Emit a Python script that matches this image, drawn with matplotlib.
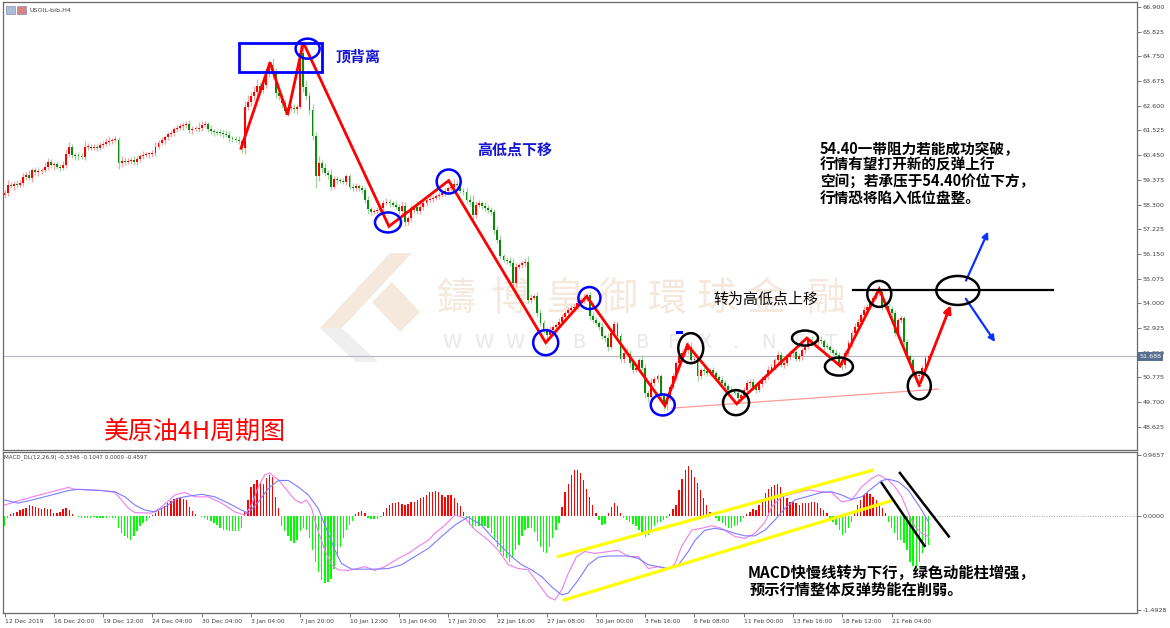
import numpy as np
import matplotlib
matplotlib.use('Agg')
import matplotlib.pyplot as plt
from matplotlib.patches import Ellipse, Rectangle, Polygon
from matplotlib.transforms import blended_transform_factory

plt.rcParams['font.family'] = ['Noto Sans CJK SC', 'DejaVu Sans']

W, H = 1170, 628

# ---------------- data ----------------
first_open = 58.70
closes = [
    58.80, 59.16, 59.10, 59.20, 59.15, 59.25, 59.50, 59.60, 59.45, 59.80,
    59.70, 59.74, 59.80, 59.95, 60.17, 60.00, 60.05, 59.95, 59.90, 60.00,
    60.50, 60.82, 60.46, 60.42, 60.40, 60.36, 60.82, 60.82, 60.78, 60.80,
    60.78, 60.90, 60.95, 61.04, 61.06, 61.10, 61.12, 60.10, 60.20, 60.15,
    60.20, 60.25, 60.13, 60.30, 60.40, 60.46, 60.48, 60.50, 60.52, 60.82,
    60.97, 61.10, 61.23, 61.35, 61.41, 61.58, 61.65, 61.70, 61.77, 61.81,
    61.55, 61.58, 61.60, 61.62, 61.77, 61.80, 61.60, 61.48, 61.45, 61.42,
    61.40, 61.36, 61.33, 61.20, 61.15, 61.12, 61.05, 60.75, 62.56, 62.78,
    63.00, 63.20, 63.44, 63.30, 63.50, 64.01, 64.38, 64.00, 63.15, 63.00,
    62.71, 62.35, 62.50, 62.52, 62.45, 62.56, 64.90, 63.40, 63.00, 62.42,
    61.26, 59.52, 60.10, 59.90, 59.68, 59.60, 59.08, 59.40, 59.35, 59.32,
    59.30, 59.52, 59.08, 59.02, 59.10, 59.00, 58.94, 58.50, 58.10, 57.99,
    58.00, 58.05, 58.14, 58.36, 58.40, 58.35, 58.30, 58.20, 58.00, 58.25,
    57.56, 57.70, 58.07, 58.20, 58.00, 58.20, 58.36, 58.50, 58.55, 58.58,
    58.65, 58.72, 58.80, 58.90, 59.00, 59.08, 59.20, 59.15, 58.90, 58.85,
    58.50, 58.40, 57.85, 58.30, 58.36, 58.25, 58.15, 58.05, 57.99, 57.20,
    56.76, 56.04, 55.90, 55.85, 55.76, 54.88, 55.60, 55.65, 55.75, 55.82,
    54.15, 54.25, 54.30, 53.60, 53.15, 52.85, 52.63, 52.85, 52.95, 53.05,
    53.21, 53.40, 53.57, 53.70, 53.80, 53.86, 54.00, 54.15, 54.25, 54.35,
    53.43, 53.28, 53.15, 52.99, 52.56, 52.49, 52.12, 52.72, 53.10, 52.56,
    51.60, 51.85, 51.80, 51.40, 51.11, 51.20, 51.54, 51.20, 50.10, 49.94,
    50.54, 50.70, 50.82, 49.97, 49.60, 49.90, 50.38, 50.82, 51.41, 51.69,
    51.83, 51.95, 52.12, 51.54, 51.60, 50.82, 51.10, 51.05, 50.95, 51.10,
    50.95, 50.80, 50.67, 50.55, 50.40, 50.24, 50.20, 50.10, 49.90, 50.00,
    50.24, 50.53, 50.60, 50.35, 50.24, 50.50, 50.67, 50.82, 51.11, 51.25,
    51.54, 51.76, 51.32, 51.40, 51.65, 51.83, 51.90, 51.60, 51.70, 51.95,
    52.12, 52.41, 52.35, 52.30, 52.41, 52.35, 52.12, 52.10, 51.95, 51.85,
    51.76, 51.40, 51.32, 51.83, 52.27, 52.70, 52.99, 53.21, 53.50, 53.72,
    53.86, 54.00, 54.23, 54.44, 54.50, 53.86, 53.90, 53.75, 53.57, 52.70,
    53.28, 53.35, 52.30, 51.69, 51.54, 50.97, 50.82, 50.90, 51.20, 51.61,
    51.69,
]
# wick length above / below the candle body
high_ext = [
    .15, .20, .10, .12, .15, .10, .18, .12, .20, .10,
    .12, .15, .10, .20, .15, .12, .10, .15, .12, .20,
    .15, .20, .12, .10, .15, .12, .25, .15, .10, .12,
    .15, .10, .12, .15, .20, .10, .15, .12, .20, .15,
    .12, .10, .15, .12, .10, .15, .12, .10, .15, .20,
    .12, .15, .10, .12, .15, .10, .12, .15, .10, .12,
    .15, .12, .10, .25, .15, .12, .10, .15, .12, .10,
    .15, .12, .20, .15, .10, .12, .15, .10, .25, .30,
    .20, .25, .30, .20, .35, .25, .20, .30, .25, .20,
    .15, .20, .15, .12, .15, .10, .44, .25, .30, .20,
    .25, .20, .30, .15, .20, .12, .25, .15, .12, .10,
    .15, .12, .10, .15, .12, .10, .15, .12, .15, .10,
    .12, .15, .10, .15, .20, .12, .10, .15, .12, .20,
    .15, .12, .20, .10, .25, .15, .12, .10, .15, .12,
    .10, .12, .15, .10, .12, .15, .20, .15, .12, .10,
    .15, .20, .30, .15, .12, .10, .15, .12, .15, .10,
    .15, .20, .12, .10, .15, .20, .15, .12, .10, .15,
    .25, .15, .12, .20, .15, .12, .10, .15, .12, .10,
    .15, .12, .10, .15, .12, .10, .15, .12, .15, .12,
    .15, .20, .12, .10, .15, .12, .20, .25, .15, .12,
    .15, .12, .20, .15, .12, .15, .10, .20, .15, .12,
    .20, .15, .12, .10, .15, .20, .12, .15, .10, .15,
    .12, .15, .18, .20, .15, .12, .10, .15, .12, .10,
    .15, .12, .10, .15, .12, .10, .15, .12, .15, .10,
    .12, .15, .10, .15, .12, .10, .15, .12, .15, .12,
    .10, .15, .12, .10, .15, .12, .10, .15, .12, .10,
    .12, .10, .15, .12, .10, .15, .12, .15, .10, .12,
    .15, .12, .10, .15, .12, .10, .15, .12, .10, .15,
    .12, .10, .15, .12, .15, .15, .12, .10, .15, .12,
    .10, .15, .12, .15, .12, .10, .15, .12, .10, .15,
    .10,
]
low_ext = [
    .12, .15, .10, .15, .12, .10, .15, .12, .10, .15,
    .10, .15, .12, .10, .15, .12, .20, .10, .15, .12,
    .10, .15, .12, .20, .15, .10, .12, .15, .10, .12,
    .15, .10, .12, .10, .15, .12, .10, .25, .15, .12,
    .10, .15, .12, .10, .15, .12, .10, .15, .12, .10,
    .12, .10, .15, .12, .10, .15, .12, .10, .15, .12,
    .15, .20, .10, .15, .12, .10, .15, .12, .15, .10,
    .12, .15, .10, .20, .15, .12, .10, .20, .25, .15,
    .20, .15, .25, .20, .15, .12, .15, .25, .20, .15,
    .20, .15, .20, .12, .15, .20, .10, .20, .15, .20,
    .15, .50, .20, .25, .15, .20, .15, .12, .15, .10,
    .12, .15, .10, .12, .15, .10, .12, .15, .20, .15,
    .12, .10, .15, .12, .10, .15, .12, .10, .15, .12,
    .20, .15, .10, .15, .12, .10, .15, .12, .10, .12,
    .10, .12, .10, .15, .12, .10, .12, .15, .12, .15,
    .12, .15, .25, .12, .10, .15, .12, .10, .15, .20,
    .15, .12, .10, .15, .12, .20, .15, .10, .12, .15,
    .12, .15, .10, .20, .15, .12, .30, .15, .12, .10,
    .12, .10, .15, .12, .10, .15, .12, .10, .12, .15,
    .15, .12, .10, .15, .12, .15, .20, .12, .15, .12,
    .15, .20, .12, .15, .12, .10, .15, .12, .20, .25,
    .15, .12, .10, .20, .25, .25, .15, .12, .15, .10,
    .12, .10, .15, .12, .15, .20, .12, .15, .10, .12,
    .15, .12, .10, .15, .12, .15, .12, .10, .25, .15,
    .12, .10, .15, .12, .15, .10, .12, .15, .10, .12,
    .15, .12, .10, .15, .12, .10, .15, .12, .10, .15,
    .12, .10, .15, .12, .10, .12, .15, .10, .12, .15,
    .12, .15, .20, .12, .10, .15, .12, .10, .15, .12,
    .10, .12, .15, .10, .12, .15, .12, .10, .15, .12,
    .20, .12, .15, .12, .15, .20, .25, .30, .15, .12,
    .10,
]
# MACD histogram, one value per candle
hist = [
    -0.17, -0.04, 0.02, 0.04, 0.06, 0.09, 0.11, 0.13, 0.17, 0.15,
    0.14, 0.13, 0.11, 0.12, 0.11, 0.10, 0.05, 0.04, 0.06, 0.10,
    0.12, 0.09, 0.03, -0.01, -0.02, -0.03, -0.03, -0.03, -0.03, -0.02,
    -0.03, -0.03, -0.03, -0.03, -0.02, -0.03, -0.04, -0.20, -0.28, -0.33,
    -0.36, -0.38, -0.32, -0.25, -0.17, -0.12, -0.08, -0.04, 0.01, 0.04,
    0.07, 0.12, 0.15, 0.20, 0.24, 0.27, 0.28, 0.28, 0.27, 0.25,
    0.14, 0.07, 0.03, -0.01, -0.02, -0.03, -0.07, -0.08, -0.12, -0.15,
    -0.19, -0.22, -0.23, -0.24, -0.25, -0.24, -0.25, -0.20, 0.06, 0.25,
    0.45, 0.51, 0.56, 0.54, 0.51, 0.60, 0.65, 0.62, 0.30, 0.12,
    -0.17, -0.25, -0.33, -0.41, -0.44, -0.39, -0.25, -0.20, -0.23, -0.36,
    -0.55, -0.73, -0.89, -1.02, -1.07, -1.05, -1.00, -0.84, -0.65, -0.49,
    -0.36, -0.23, -0.15, -0.08, 0.02, 0.06, 0.07, 0.04, -0.04, -0.06,
    -0.06, -0.05, -0.02, 0.06, 0.12, 0.17, 0.20, 0.21, 0.22, 0.19,
    0.17, 0.19, 0.22, 0.22, 0.25, 0.28, 0.30, 0.33, 0.37, 0.38,
    0.40, 0.37, 0.33, 0.30, 0.33, 0.33, 0.28, 0.21, 0.15, 0.06,
    -0.05, -0.15, -0.19, -0.17, -0.17, -0.17, -0.16, -0.20, -0.28, -0.38,
    -0.50, -0.58, -0.64, -0.68, -0.73, -0.65, -0.55, -0.47, -0.33, -0.23,
    -0.19, -0.20, -0.26, -0.40, -0.50, -0.58, -0.60, -0.49, -0.35, -0.23,
    -0.12, 0.14, 0.38, 0.51, 0.65, 0.72, 0.73, 0.68, 0.57, 0.43,
    0.30, 0.17, 0.05, -0.07, -0.15, -0.13, 0.05, 0.14, 0.21, 0.15,
    0.05, -0.03, -0.07, -0.10, -0.13, -0.17, -0.23, -0.28, -0.34, -0.31,
    -0.23, -0.17, -0.12, -0.10, -0.07, -0.04, 0.02, 0.10, 0.17, 0.41,
    0.59, 0.73, 0.79, 0.72, 0.62, 0.52, 0.41, 0.28, 0.17, 0.06,
    -0.01, -0.04, -0.08, -0.12, -0.16, -0.19, -0.20, -0.17, -0.15, -0.10,
    -0.04, 0.02, 0.06, 0.10, 0.09, 0.17, 0.25, 0.36, 0.43, 0.46,
    0.49, 0.51, 0.46, 0.36, 0.28, 0.22, 0.22, 0.20, 0.17, 0.20,
    0.21, 0.21, 0.22, 0.22, 0.20, 0.13, 0.09, 0.05, -0.03, -0.10,
    -0.15, -0.23, -0.31, -0.28, -0.19, -0.10, 0.05, 0.17, 0.25, 0.33,
    0.36, 0.34, 0.30, 0.25, 0.21, 0.12, 0.04, -0.10, -0.20, -0.28,
    -0.39, -0.38, -0.44, -0.55, -0.73, -0.80, -0.84, -0.73, -0.60, -0.50,
    -0.46,
]
# MACD fast line (pink) and signal line (blue): (candle index, value)
pink_bar = [0, 5.5, 9.8, 15.3, 20.7, 22.8, 27.2, 31.5, 35.8, 38, 40.2, 42.3, 47.7,
            51, 55.3, 58.5, 61.8, 66.1, 70.5, 74.8, 78, 80.2, 82.4, 84.5, 86.1,
            88.9, 92.1, 94.3, 96.4, 98, 99.7, 101.3, 104, 106.2, 108.3, 111.6,
            113.7, 117, 120.2, 123.5, 127.8, 131.1, 134.3, 137.6, 139.7, 143,
            146.2, 149.5, 152.7, 157.1, 160.3, 163.6, 166.8, 170, 173.3, 176.5,
            178.7, 180.9, 183, 185.7, 188.4, 191.7, 196, 199.3, 202.5, 205.8,
            209, 212.3, 215.5, 217.7, 219.8, 223.1, 226.3, 229.6, 232.8, 237.1,
            240.4, 243.6, 246.9, 249.1, 252.3, 256.6, 261, 265.3, 268.5, 271.8,
            275, 278.3, 281.5, 283.7, 286.9, 289.1, 291.3, 293.4, 295.6, 297.8, 300]
pink_val = [0.17, 0.25, 0.31, 0.38, 0.45, 0.42, 0.41, 0.40, 0.37, 0.25, 0.12, 0.05, 0.04,
            0.14, 0.33, 0.37, 0.30, 0.30, 0.20, 0.06, 0.01, 0.17, 0.46, 0.65, 0.68,
            0.57, 0.38, 0.25, 0.20, 0.25, 0.12, -0.17, -0.55, -0.78, -0.86, -0.87,
            -0.85, -0.81, -0.87, -0.81, -0.68, -0.60, -0.49, -0.39, -0.28, -0.15,
            0.01, -0.04, -0.22, -0.39, -0.55, -0.78, -0.84, -0.86, -1.08, -1.29,
            -1.34, -1.18, -0.92, -0.65, -0.57, -0.60, -0.57, -0.55, -0.65, -0.65,
            -0.84, -0.81, -0.86, -0.76, -0.49, -0.23, -0.20, -0.16, -0.20, -0.33,
            -0.36, -0.28, -0.10, 0.14, 0.30, 0.36, 0.41, 0.38, 0.37, 0.22,
            0.25, 0.46, 0.59, 0.65, 0.57, 0.46, 0.30, 0.05, -0.18, -0.28, -0.33]
blue_bar = [0, 4.4, 9.8, 15.3, 20.7, 23.9, 31.5, 35.8, 39.1, 42.3, 45.6, 48.8, 52.1,
            56.4, 59.6, 64, 68.3, 72.6, 76.9, 79.1, 82.4, 85.6, 88.9, 92.1, 95.3,
            98.6, 101.8, 105.1, 107.3, 109.4, 112.7, 115.9, 120.2, 124.6, 128.9,
            133.2, 137.6, 141.9, 146.2, 150.5, 154.9, 158.1, 161.4, 164.6, 167.9,
            171.1, 174.4, 177.6, 180.9, 183, 186.3, 189.5, 192.8, 196, 199.3,
            202.5, 205.8, 209, 212.3, 215.5, 218.8, 222, 224.2, 227.4, 230.7,
            233.9, 237.1, 240.4, 243.6, 246.9, 250.1, 253.4, 256.6, 261, 265.3,
            268.5, 271.8, 275, 278.3, 281.5, 284.8, 287, 290.2, 293.4, 295.6, 297.8, 300]
blue_val = [0.25, 0.20, 0.26, 0.33, 0.40, 0.42, 0.40, 0.38, 0.30, 0.17, 0.09, 0.06, 0.14,
            0.28, 0.31, 0.34, 0.30, 0.20, 0.09, 0.04, 0.22, 0.43, 0.56, 0.56, 0.46,
            0.33, 0.12, -0.28, -0.55, -0.76, -0.85, -0.85, -0.85, -0.84, -0.78,
            -0.65, -0.52, -0.33, -0.15, -0.02, -0.15, -0.33, -0.49, -0.65, -0.78,
            -0.86, -0.97, -1.13, -1.26, -1.23, -1.02, -0.78, -0.66, -0.64, -0.64,
            -0.64, -0.68, -0.78, -0.81, -0.84, -0.78, -0.57, -0.39, -0.23, -0.20,
            -0.23, -0.28, -0.32, -0.32, -0.23, -0.07, 0.12, 0.25, 0.31, 0.37,
            0.38, 0.33, 0.26, 0.30, 0.43, 0.56, 0.58, 0.54, 0.41, 0.25, 0.09, -0.10]

price_ticks = [66.900, 65.825, 64.750, 63.675, 62.600, 61.525, 60.450, 59.375, 58.300,
               57.225, 56.150, 55.075, 54.000, 52.925, 51.850, 50.775, 49.700, 48.625]
macd_ticks = [0.9657, 0.0, -1.4928]
macd_tick_labels = ['0.9657', '0.0000', '-1.4928']
date_bars = [0, 16, 32, 48, 64, 80, 96, 112, 128, 144, 160, 176, 192, 208, 224, 240, 256, 272, 288]
date_labels = ['12 Dec 2019', '16 Dec 20:00', '19 Dec 12:00', '24 Dec 04:00', '30 Dec 04:00',
               '3 Jan 04:00', '7 Jan 20:00', '10 Jan 12:00', '15 Jan 04:00', '17 Jan 20:00',
               '22 Jan 16:00', '27 Jan 08:00', '30 Jan 00:00', '3 Feb 16:00', '6 Feb 08:00',
               '11 Feb 00:00', '13 Feb 16:00', '18 Feb 12:00', '21 Feb 04:00']
current_price = 51.688

# analyst drawings (candle index, price)
zig_bars = [76.8, 86.2, 91.9, 97.0, 124.8, 144.2, 175.7, 189.0, 214.4, 221.7, 237.7,
            260.5, 271.3, 284.0, 297.0]
zig_prices = [60.75, 64.48, 62.21, 65.35, 57.35, 59.34, 52.29, 54.30, 49.55, 52.19, 49.63,
              52.49, 51.28, 54.62, 50.42]
zig_arrow_end = (307.5, 54.03)

# ---------------- figure ----------------
fig = plt.figure(figsize=(W / 100, H / 100), dpi=100)
ax1 = fig.add_axes([3 / W, 1 - 450 / H, 1134 / W, 448 / H])
ax2 = fig.add_axes([3 / W, 1 - 613 / H, 1134 / W, 161 / H])
PX_PER_BAR = 3.08
xlim = (-0.5, -0.5 + 1134 / PX_PER_BAR)


def P(x, y):
    return (x / W, 1 - y / H)


# watermark
wm_color = '#f4e9dc'
for poly, col in [([(390, 253), (412, 253), (342, 328), (320, 328)], wm_color),
                  ([(320, 328), (342, 328), (378, 362), (356, 362)], '#efefef'),
                  ([(372, 302), (392, 282), (420, 312), (400, 332)], wm_color)]:
    ax1.add_patch(Polygon([P(*p) for p in poly], closed=True, transform=fig.transFigure,
                          facecolor=col, edgecolor='none', zorder=0.5, clip_on=False))
for ch, cx in zip('鑄博皇御環球金融', [456, 510, 565, 618, 667, 716, 766, 826]):
    ax1.text(*P(cx, 299), ch, transform=fig.transFigure, ha='center', va='center',
             fontsize=28, color=wm_color, family=['Noto Sans CJK TC', 'DejaVu Sans'], zorder=0.5)
for k, ch in enumerate('WWW.BIBFX.NET'):
    ax1.text(*P(452 + k * 31.6, 343), ch, transform=fig.transFigure, ha='center', va='center',
             fontsize=14, color='#e8e8e8', family='DejaVu Sans', zorder=0.5)

# candles
c = np.array(closes)
o = np.r_[first_open, c[:-1]]
idx = np.arange(len(c))
hi = np.maximum(o, c) + np.array(high_ext[:len(c)])
lo = np.minimum(o, c) - np.array(low_ext[:len(c)])
up = c >= o
ax1.axhline(current_price, color='#b4b4c4', lw=0.8, zorder=1)
ax1.vlines(idx, lo, hi, colors=np.where(up, '#f4a3a3', '#9fd49f'), lw=0.9, zorder=2)
ax1.bar(idx, np.maximum(np.abs(c - o), 0.04), bottom=np.minimum(o, c), width=0.62,
        color=np.where(up, '#ff0000', '#0b8a0b'), linewidth=0, zorder=3)

# drawings on price panel
ax1.plot(zig_bars, zig_prices, color='#ff0000', lw=2.0, zorder=5, solid_joinstyle='miter')
ax1.annotate('', xy=zig_arrow_end, xytext=(zig_bars[-1], zig_prices[-1]),
             arrowprops=dict(arrowstyle='-|>', color='#ff0000', lw=2.0, mutation_scale=11), zorder=5)
ax1.plot([216.6, 303.2], [49.44, 50.27], color='#ff9a9a', lw=0.9, zorder=4)
ax1.add_patch(Rectangle((76.1, 64.05), 103.1 - 76.1, 65.32 - 64.05, fill=False,
                        edgecolor='#0000ff', lw=2.0, zorder=6))


def ell(bx, py, wpx, hpx, col):
    ax1.add_patch(Ellipse((bx, py), wpx / PX_PER_BAR, hpx * 0.04352, fill=False,
                          edgecolor=col, lw=1.8, zorder=6, clip_on=False))


for e in [(98.4, 65.08, 24, 20), (124.5, 57.52, 26, 20), (144.2, 59.30, 24, 24),
          (175.7, 52.29, 25, 25), (189.9, 54.23, 22, 22), (213.7, 49.58, 24, 21)]:
    ell(*e, '#0000ff')
for e in [(222.8, 52.05, 25, 30), (237.5, 49.68, 26, 25), (259.9, 52.49, 26, 15),
          (270.9, 51.25, 28, 18), (284.0, 54.41, 24, 26), (297.0, 50.41, 23, 27),
          (309.5, 54.56, 43, 29)]:
    ell(*e, '#000000')
ax1.plot([275.5, 340.4], [54.59, 54.59], color='black', lw=1.6, zorder=5)
for (x0, y0), (x1, y1) in [((311.8, 54.88), (319.7, 57.23)), ((311.6, 54.30), (322.1, 52.22))]:
    ax1.annotate('', xy=(x1, y1), xytext=(x0, y0),
                 arrowprops=dict(arrowstyle='-|>', color='#0a32ff', lw=1.6, mutation_scale=9))
ax1.plot([218.2, 219.6], [52.77, 52.77], color='#0000ff', lw=2.2, zorder=6)

ax1.set_xlim(*xlim)
ax1.set_ylim(47.62, 67.11)
ax1.set_xticks([])
ax1.yaxis.tick_right()
ax1.set_yticks(price_ticks)
ax1.set_yticklabels(['%.3f' % v for v in price_ticks], family='DejaVu Sans')
ax1.tick_params(axis='y', length=3, width=0.6, pad=1, labelsize=4.6, labelcolor='#404040',
                color='#606060')
ax1.text(1.0025, current_price, '%.3f' % current_price,
         transform=blended_transform_factory(ax1.transAxes, ax1.transData),
         ha='left', va='center', fontsize=4.6, color='white', family='DejaVu Sans',
         bbox=dict(facecolor='#566e90', edgecolor='none', pad=1.2), clip_on=False, zorder=10)

# MACD panel
hv = np.array(hist)
ax2.bar(np.arange(len(hv)), hv, width=0.42, color=np.where(hv >= 0, '#ff0000', '#00ff00'),
        linewidth=0, zorder=2)
ax2.plot(pink_bar, pink_val, color='#f07cf0', lw=0.8, zorder=3)
ax2.plot(blue_bar, blue_val, color='#7c7cff', lw=0.8, zorder=3)
ax2.hlines(0, len(hv), xlim[1], colors='#a8a8a8', linestyles=(0, (1, 1.5)), lw=0.7)
ax2.plot([179.8, 281.6], [-0.65, 0.72], color='#ffff00', lw=2.3, zorder=4)
ax2.plot([181.7, 288.0], [-1.34, 0.24], color='#ffff00', lw=2.3, zorder=4)
ax2.plot([284.8, 298.7], [0.52, -0.48], color='black', lw=1.8, zorder=4)
ax2.plot([290.7, 306.6], [0.68, -0.33], color='black', lw=1.8, zorder=4)
ax2.set_xlim(*xlim)
ax2.set_ylim(-1.547, 1.013)
ax2.yaxis.tick_right()
ax2.set_yticks(macd_ticks)
ax2.set_yticklabels(macd_tick_labels, family='DejaVu Sans')
ax2.tick_params(axis='y', length=3, width=0.6, pad=1, labelsize=4.6, labelcolor='#404040',
                color='#606060')
ax2.set_xticks(date_bars)
ax2.set_xticklabels(date_labels, ha='left', family='DejaVu Sans')
ax2.tick_params(axis='x', length=3, width=0.6, pad=1.5, labelsize=4.3, labelcolor='#404040',
                color='#606060')

for ax in (ax1, ax2):
    for s in ax.spines.values():
        s.set_color('#6a6a6a')
        s.set_linewidth(0.9)

# header texts
for (x0, col) in [(6, '#8aa0c8'), (17, '#c85050')]:
    fig.patches.append(Rectangle(P(x0, 14), 9 / W, 8 / H, transform=fig.transFigure,
                                 facecolor=col, edgecolor='#6070a0', lw=0.5, alpha=0.7))
fig.text(*P(30, 10), 'USOIL-bib,H4', fontsize=4.6, color='#404040', va='center',
         family='DejaVu Sans')
fig.text(*P(4, 457), 'MACD_DL(12,26,9) -0.3346 -0.1047 0.0000 -0.4597', fontsize=4.1,
         color='#404040', va='center', family='DejaVu Sans')

# annotation texts
fig.text(*P(335, 57), '顶背离', fontsize=10.8, color='#1414d2', weight='bold', va='center')
fig.text(*P(477, 150), '高低点下移', fontsize=10.8, color='#1414d2', weight='bold', va='center')
fig.text(*P(713, 299), '转为高低点上移', fontsize=10.8, color='black', va='center')
for s, yy in [('54.40一带阻力若能成功突破，', 149.3), ('行情有望打开新的反弹上行', 164.8),
              ('空间；若承压于54.40价位下方，', 181.7), ('行情恐将陷入低位盘整。', 199.3)]:
    fig.text(*P(820, yy), s, fontsize=10.5, color='black', weight='bold', va='center')
fig.text(*P(104, 432), '美原油4H周期图', fontsize=18, color='#ff0000', va='center')
fig.text(*P(748, 573), 'MACD快慢线转为下行，绿色动能柱增强，', fontsize=11, color='black',
         weight='bold', va='center')
fig.text(*P(750, 590), '预示行情整体反弹势能在削弱。', fontsize=11, color='black',
         weight='bold', va='center')

fig.savefig('out.png', dpi=100)
